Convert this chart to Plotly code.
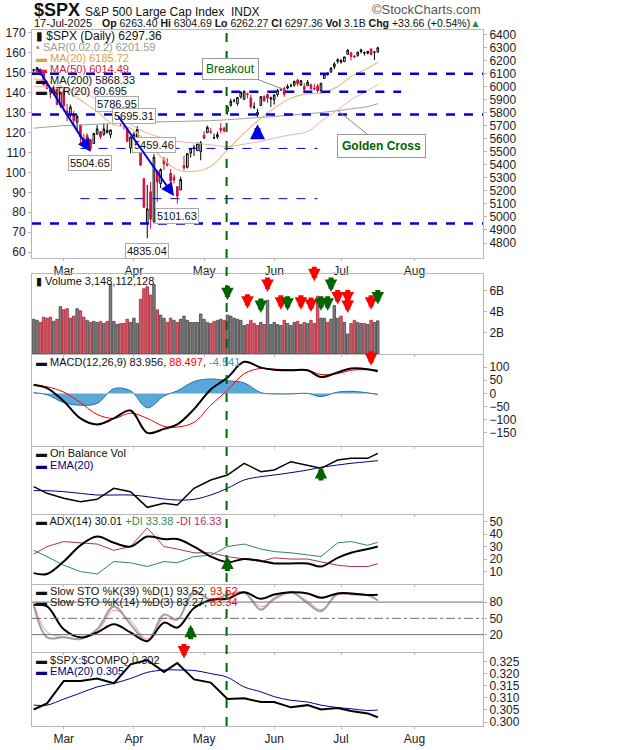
import plotly.graph_objects as go
from plotly.subplots import make_subplots

# daily $SPX candles, Feb 18 - Jul 17 2025
DATES = [
    "2025-02-18", "2025-02-19", "2025-02-20", "2025-02-21", "2025-02-24", "2025-02-25", "2025-02-26", "2025-02-27", "2025-02-28",
    "2025-03-03", "2025-03-04", "2025-03-05", "2025-03-06", "2025-03-07", "2025-03-10", "2025-03-11", "2025-03-12", "2025-03-13",
    "2025-03-14", "2025-03-17", "2025-03-18", "2025-03-19", "2025-03-20", "2025-03-21", "2025-03-24", "2025-03-25", "2025-03-26",
    "2025-03-27", "2025-03-28", "2025-03-31",
    "2025-04-01", "2025-04-02", "2025-04-03", "2025-04-04", "2025-04-07", "2025-04-08", "2025-04-09", "2025-04-10", "2025-04-11",
    "2025-04-14", "2025-04-15", "2025-04-16", "2025-04-17", "2025-04-21", "2025-04-22", "2025-04-23", "2025-04-24", "2025-04-25",
    "2025-04-28", "2025-04-29", "2025-04-30",
    "2025-05-01", "2025-05-02", "2025-05-05", "2025-05-06", "2025-05-07", "2025-05-08", "2025-05-09", "2025-05-12", "2025-05-13",
    "2025-05-14", "2025-05-15", "2025-05-16", "2025-05-19", "2025-05-20", "2025-05-21", "2025-05-22", "2025-05-23", "2025-05-27",
    "2025-05-28", "2025-05-29", "2025-05-30",
    "2025-06-02", "2025-06-03", "2025-06-04", "2025-06-05", "2025-06-06", "2025-06-09", "2025-06-10", "2025-06-11", "2025-06-12",
    "2025-06-13", "2025-06-16", "2025-06-17", "2025-06-18", "2025-06-20", "2025-06-23", "2025-06-24", "2025-06-25", "2025-06-26",
    "2025-06-27", "2025-06-30",
    "2025-07-01", "2025-07-02", "2025-07-03", "2025-07-07", "2025-07-08", "2025-07-09", "2025-07-10", "2025-07-11", "2025-07-14",
    "2025-07-15", "2025-07-16", "2025-07-17",
]
OPEN = [6121, 6117, 6134, 6114, 6026, 5982, 5970, 5981, 5857,
        5969, 5812, 5782, 5787, 5726, 5705, 5603, 5624, 5594, 5563, 5635, 5654, 5632, 5646, 5630, 5718, 5775, 5772, 5696, 5679, 5527,
        5597, 5580, 5492, 5293, 4954, 5193, 4966, 5353, 5256, 5441, 5411, 5335, 5305, 5232, 5207, 5395, 5381, 5490, 5529, 5508, 5500,
        5626, 5645, 5655, 5606, 5613, 5679, 5680, 5808, 5855, 5891, 5870, 5920, 5902, 5944, 5911, 5841, 5782, 5854, 5925, 5939, 5904,
        5897, 5938, 5978, 5985, 5987, 6005, 6010, 6049, 6010, 6000, 6005, 6013, 5987, 6004, 5970, 6062, 6104, 6112, 6150, 6193,
        6187, 6191, 6247, 6259, 6233, 6238, 6268, 6256, 6255, 6288, 6263, 6263]
HIGH = [6129, 6147, 6134, 6114, 6044, 5993, 6009, 5993, 5959,
        5987, 5866, 5861, 5812, 5783, 5705, 5636, 5642, 5598, 5645, 5703, 5654, 5716, 5711, 5670, 5775, 5787, 5776, 5732, 5685, 5615,
        5650, 5695, 5500, 5293, 5246, 5267, 5481, 5353, 5373, 5460, 5450, 5367, 5328, 5232, 5309, 5469, 5489, 5528, 5553, 5572, 5581,
        5658, 5700, 5683, 5640, 5654, 5721, 5691, 5846, 5907, 5907, 5917, 5958, 5968, 5953, 5939, 5878, 5829, 5924, 5930, 5944, 5922,
        5937, 5981, 5990, 5999, 6017, 6022, 6044, 6059, 6045, 6026, 6050, 6023, 6018, 6018, 6026, 6101, 6108, 6146, 6187, 6215,
        6211, 6227, 6285, 6262, 6242, 6265, 6290, 6269, 6271, 6291, 6273, 6305]
LOW = [6100, 6111, 6085, 6008, 5983, 5909, 5933, 5858, 5837,
       5810, 5732, 5762, 5711, 5667, 5565, 5528, 5546, 5505, 5563, 5632, 5597, 5622, 5640, 5603, 5718, 5764, 5694, 5670, 5572, 5488,
       5558, 5571, 5391, 5069, 4835, 4910, 4950, 5115, 5221, 5359, 5386, 5220, 5255, 5101, 5207, 5356, 5371, 5455, 5468, 5506, 5434,
       5598, 5645, 5637, 5598, 5597, 5640, 5646, 5783, 5845, 5876, 5853, 5907, 5895, 5908, 5830, 5826, 5767, 5854, 5886, 5872, 5843,
       5861, 5922, 5967, 5921, 5978, 5994, 5999, 6002, 6004, 5963, 6004, 5974, 5971, 5952, 5943, 6062, 6080, 6102, 6132, 6175,
       6175, 6188, 6243, 6201, 6218, 6228, 6253, 6237, 6246, 6241, 6203, 6262]
CLOSE = [6129, 6144, 6117, 6013, 5983, 5955, 5956, 5861, 5955,
         5850, 5778, 5842, 5739, 5770, 5614, 5572, 5599, 5522, 5639, 5675, 5615, 5675, 5663, 5667, 5768, 5777, 5712, 5693, 5581, 5612,
         5633, 5671, 5397, 5074, 5062, 4982, 5457, 5268, 5363, 5406, 5397, 5276, 5283, 5158, 5288, 5376, 5485, 5525, 5529, 5561, 5569,
         5604, 5687, 5650, 5607, 5631, 5664, 5660, 5844, 5886, 5892, 5916, 5958, 5964, 5940, 5845, 5842, 5803, 5922, 5889, 5912, 5912,
         5936, 5970, 5971, 5939, 6000, 6006, 6039, 6022, 6045, 5977, 6033, 5983, 5981, 5968, 6025, 6093, 6092, 6141, 6173, 6205,
         6198, 6227, 6279, 6230, 6226, 6263, 6280, 6260, 6269, 6244, 6264, 6297]
VOLUME_B = [3.3, 3.2, 3.0, 3.5, 3.4, 3.5, 3.1, 3.3, 4.5,
            4.2, 4.3, 3.4, 3.6, 4.3, 4.1, 3.5, 3.2, 3.0, 3.1, 3.0, 3.1, 2.9, 3.1, 6.6, 3.1, 2.8, 2.9, 2.9, 3.3, 3.0,
            3.4, 2.9, 5.2, 6.2, 6.4, 5.6, 6.6, 4.2, 3.7, 3.4, 3.0, 3.4, 3.2, 3.0, 3.3, 3.6, 3.2, 3.0, 3.0, 3.0, 3.8,
            3.3, 3.0, 2.9, 3.1, 3.2, 3.3, 3.2, 3.7, 3.6, 3.4, 3.3, 3.2, 2.7, 2.8, 3.2, 2.9, 2.7, 3.0, 2.8, 5.1, 2.8,
            3.0, 2.8, 2.7, 3.2, 2.9, 2.7, 3.0, 3.1, 2.8, 3.0, 2.9, 3.2, 2.9, 5.5, 3.4, 3.4, 3.0, 3.3, 4.6, 3.4,
            3.6, 3.0, 1.9, 2.9, 3.2, 3.0, 2.9, 2.9, 2.8, 3.2, 3.0, 3.15]

# indicator readings, roughly one per week
WEEKS = ["2025-02-18", "2025-02-24", "2025-03-03", "2025-03-10", "2025-03-17", "2025-03-24", "2025-03-31", "2025-04-07",
         "2025-04-14", "2025-04-21", "2025-04-28", "2025-05-05", "2025-05-12", "2025-05-19", "2025-05-27", "2025-06-02",
         "2025-06-09", "2025-06-16", "2025-06-23", "2025-06-30", "2025-07-07", "2025-07-14", "2025-07-17"]
MA20 = [6060, 6040, 5990, 5897, 5808, 5706, 5681, 5566, 5438, 5362, 5349, 5387, 5515, 5642, 5757, 5834, 5910, 5943, 5948,
        5999, 6076, 6140, 6186]
MA50 = [6000, 5995, 5985, 5960, 5900, 5800, 5710, 5642, 5604, 5579, 5566, 5553, 5540, 5558, 5579, 5604, 5630, 5655, 5732,
        5821, 5897, 5969, 6014]
MA200 = [5680, 5690, 5700, 5705, 5712, 5718, 5722, 5726, 5728, 5730, 5732, 5738, 5745, 5752, 5760, 5770, 5780, 5790, 5800,
         5815, 5830, 5845, 5868]
MACD = [33, 20, -30, -95, -118, -95, -65, -150, -135, -118, -60, 15, 60, 120, 98, 90, 88, 88, 62, 80, 95, 92, 84]
MACD_SIGNAL = [30, 25, 5, -35, -80, -95, -75, -95, -125, -128, -110, -45, 12, 75, 95, 92, 90, 88, 72, 75, 88, 90, 88.5]
MACD_HIST = [3, -5, -35, -45, -38, 18, 10, -55, -10, 10, 45, 55, 48, 40, 3, -2, -2, 0, -12, 5, 8, 2, -4.5]
OBV = [70, 50, 35, 25, 32, 65, 55, 8, 20, 15, 65, 90, 105, 140, 115, 120, 145, 135, 125, 150, 155, 155, 170]
OBV_EMA = [58, 58, 55, 50, 45, 45, 45, 40, 33, 30, 32, 45, 65, 90, 100, 105, 112, 120, 128, 135, 140, 145, 148]
ADX = [8.7, 8, 18, 31, 38, 33, 30, 38, 36, 36, 30, 22, 17.5, 20, 18.5, 16.5, 16.5, 16.5, 14, 21, 25, 28, 30]
PLUS_DI = [27, 22, 15, 10, 8, 18, 17, 14, 18, 17, 22, 23, 30, 32, 28, 26, 25, 23, 22, 33, 34, 31, 33.4]
MINUS_DI = [24, 30, 34, 33, 32, 27, 30, 45, 30, 28, 25, 25, 22, 20, 18, 21, 20, 20, 18, 15, 14, 14, 16.3]
STO39 = [75, 72, 30, 15, 24, 39, 24, 8, 42, 33, 69, 84, 86, 98, 86, 94, 98, 96, 88, 96, 96, 93, 93.5]
STO14_K = [75, 15, 15, 12, 30, 72, 39, 8, 57, 48, 100, 84, 93, 98, 66, 87, 98, 78, 63, 96, 94, 93, 83]
STO14_D = [78, 25, 16, 13, 25, 65, 45, 12, 50, 47, 95, 86, 92, 97, 72, 84, 97, 82, 66, 93, 94, 92, 83]
RATIO = [0.3052, 0.3077, 0.317, 0.317, 0.318, 0.316, 0.3238, 0.3256, 0.3207, 0.3244, 0.3176, 0.3163, 0.3095, 0.3098,
         0.3083, 0.3083, 0.3061, 0.307, 0.3052, 0.3058, 0.3046, 0.3036, 0.302]
RATIO_EMA = [0.307, 0.307, 0.3095, 0.312, 0.3145, 0.316, 0.318, 0.3205, 0.3215, 0.3215, 0.3213, 0.320, 0.3185, 0.3145,
             0.3125, 0.3105, 0.309, 0.3083, 0.307, 0.306, 0.3055, 0.3048, 0.305]

SUPPORT_FULL = [6097, 5786, 4950]
SUPPORT_PART = [("2025-04-21", "2025-07-28", 5960), ("2025-03-10", "2025-06-20", 5525), ("2025-03-10", "2025-06-19", 5140)]
PRICE_LABELS = [("2025-03-25", 5865, "5786.95"), ("2025-04-01", 5775, "5695.31"), ("2025-03-13", 5410, "5504.65"),
                ("2025-04-09", 5550, "5459.46"), ("2025-04-21", 5010, "5101.63"), ("2025-04-07", 4740, "4835.04")]
VOL_RED = [("2025-05-20", 4.3), ("2025-05-29", 5.9), ("2025-06-04", 4.2), ("2025-06-12", 4.2), ("2025-06-17", 4.0),
           ("2025-06-18", 6.9), ("2025-06-30", 4.7), ("2025-07-03", 4.7), ("2025-07-03", 3.9), ("2025-07-15", 4.2)]
VOL_GREEN = [("2025-05-12", 5.1), ("2025-05-27", 3.9), ("2025-06-06", 4.1), ("2025-06-23", 4.1), ("2025-06-25", 4.1),
             ("2025-06-26", 5.9), ("2025-07-17", 4.7)]

FONT = "Liberation Sans"
BLUE = "#0000e0"
DKGREEN = "#006400"
BOTTOM = 726

fig = make_subplots(rows=7, cols=1, shared_xaxes=True,
                    specs=[[{"secondary_y": True}]] + [[{}]] * 6)

fig.add_trace(go.Scatter(x=WEEKS, y=MA200, mode="lines", line=dict(color="#a0a0a0", width=1)), row=1, col=1)
fig.add_trace(go.Scatter(x=WEEKS, y=MA50, mode="lines", line=dict(color="#f0b0b0", width=1, shape="spline")), row=1, col=1)
fig.add_trace(go.Scatter(x=WEEKS, y=MA20, mode="lines", line=dict(color="#e8c080", width=1.2, shape="spline")), row=1, col=1)
fig.add_trace(go.Candlestick(x=DATES, open=OPEN, high=HIGH, low=LOW, close=CLOSE, whiskerwidth=0,
                             increasing=dict(line=dict(color="black", width=1), fillcolor="white"),
                             decreasing=dict(line=dict(color="#d0103a", width=1), fillcolor="#d0103a")), row=1, col=1)
fig.add_trace(go.Scatter(x=[DATES[0]], y=[100], mode="markers", marker=dict(opacity=0)), row=1, col=1, secondary_y=True)

vol_colors = ["#808080"] + ["#d06070" if CLOSE[i] < CLOSE[i - 1] else "#808080" for i in range(1, len(CLOSE))]
vol_lines = ["#404040"] + ["#b02030" if CLOSE[i] < CLOSE[i - 1] else "#404040" for i in range(1, len(CLOSE))]
fig.add_trace(go.Bar(x=DATES, y=VOLUME_B, marker=dict(color=vol_colors, line=dict(color=vol_lines, width=0.8))), row=2, col=1)

fig.add_trace(go.Scatter(x=WEEKS, y=MACD_HIST, mode="lines", fill="tozeroy", fillcolor="#5aa8d8",
                         line=dict(color="#2a6f9f", width=1, shape="spline")), row=3, col=1)
fig.add_trace(go.Scatter(x=WEEKS, y=MACD_SIGNAL, mode="lines", line=dict(color="red", width=1, shape="spline")), row=3, col=1)
fig.add_trace(go.Scatter(x=WEEKS, y=MACD, mode="lines", line=dict(color="black", width=2, shape="spline")), row=3, col=1)

fig.add_trace(go.Scatter(x=WEEKS, y=OBV_EMA, mode="lines", line=dict(color="#000080", width=1, shape="spline")), row=4, col=1)
fig.add_trace(go.Scatter(x=WEEKS, y=OBV, mode="lines", line=dict(color="black", width=1.5)), row=4, col=1)

fig.add_trace(go.Scatter(x=WEEKS, y=PLUS_DI, mode="lines", line=dict(color="#2e8b57", width=1)), row=5, col=1)
fig.add_trace(go.Scatter(x=WEEKS, y=MINUS_DI, mode="lines", line=dict(color="#b03060", width=1)), row=5, col=1)
fig.add_trace(go.Scatter(x=WEEKS, y=ADX, mode="lines", line=dict(color="black", width=2, shape="spline")), row=5, col=1)

fig.add_trace(go.Scatter(x=WEEKS, y=STO14_D, mode="lines", line=dict(color="#f09090", width=1, shape="spline")), row=6, col=1)
fig.add_trace(go.Scatter(x=WEEKS, y=STO14_K, mode="lines", line=dict(color="#a0a0a0", width=2, shape="spline")), row=6, col=1)
fig.add_trace(go.Scatter(x=WEEKS, y=STO39, mode="lines", line=dict(color="black", width=2, shape="spline")), row=6, col=1)

fig.add_trace(go.Scatter(x=WEEKS, y=RATIO_EMA, mode="lines", line=dict(color="#0000a0", width=1, shape="spline")), row=7, col=1)
fig.add_trace(go.Scatter(x=WEEKS, y=RATIO, mode="lines", line=dict(color="black", width=2)), row=7, col=1)

# panel layout in pixels -> paper coords
def py(s):
    return (BOTTOM - s) / (BOTTOM - 30)

def px(s):
    return (s - 32) / 451

domains = {"yaxis": (30, 258), "yaxis3": (274, 354), "yaxis4": (355, 446),
           "yaxis5": (447, 514), "yaxis6": (515, 584), "yaxis7": (585, 652), "yaxis8": (653, BOTTOM)}
for name, (top, bot) in domains.items():
    fig.layout[name].domain = [py(bot), py(top)]

axis_style = dict(showgrid=False, zeroline=False, showline=True, linecolor="#b8b8b8", mirror=True, automargin=False,
                  ticks="outside", ticklen=3, tickcolor="#b8b8b8", tickfont=dict(size=12, color="#222"))
fig.update_yaxes(side="right", **axis_style)
fig.update_layout(
    yaxis=dict(range=[4685, 6433], tickvals=list(range(4800, 6401, 100))),
    yaxis2=dict(range=[57.1, 171.3], side="left", tickvals=list(range(60, 171, 10)), showline=False, overlaying="y"),
    yaxis3=dict(range=[0, 7.6], tickvals=[2, 4, 6], ticktext=["2B", "4B", "6B"]),
    yaxis4=dict(range=[-200, 146], tickvals=[-150, -100, -50, 0, 50, 100]),
    yaxis5=dict(range=[-12, 189], showticklabels=False, ticks=""),
    yaxis6=dict(range=[0, 55.3], tickvals=[10, 20, 30, 40, 50]),
    yaxis7=dict(range=[-12, 111.5], tickvals=[20, 50, 80]),
    yaxis8=dict(range=[0.2984, 0.3285], tickvals=[0.300, 0.305, 0.310, 0.315, 0.320, 0.325], tickformat=".3f"),
)

fig.update_xaxes(domain=[0, 1], range=["2025-02-17 12:00", "2025-08-29 12:00"],
                 rangebreaks=[dict(bounds=["sat", "mon"]),
                              dict(values=["2025-04-18", "2025-05-26", "2025-06-19", "2025-07-04"])],
                 tickvals=["2025-03-03", "2025-04-01", "2025-05-01", "2025-06-02", "2025-07-01", "2025-08-01"],
                 ticktext=["Mar", "Apr", "May", "Jun", "Jul", "Aug"],
                 rangeslider_visible=False, **axis_style)
fig.update_xaxes(ticklen=2)
fig.update_xaxes(showticklabels=True, row=1, col=1)
fig.update_xaxes(showticklabels=True, row=7, col=1)

shapes = []
for level in SUPPORT_FULL:
    shapes.append(dict(type="line", xref="paper", yref="y", x0=0, x1=1, y0=level, y1=level,
                       line=dict(color=BLUE, width=2.5, dash="dash")))
for x0, x1, level in SUPPORT_PART:
    w = 2.5 if level == 5960 else 1
    shapes.append(dict(type="line", xref="x", yref="y", x0=x0, x1=x1, y0=level, y1=level,
                       line=dict(color=BLUE, width=w, dash="dash")))
shapes.append(dict(type="line", xref="x", yref="paper", x0="2025-05-09 18:00", x1="2025-05-09 18:00", y0=0, y1=1,
                   line=dict(color=DKGREEN, width=2, dash="dash")))
for y in (20, 80):
    shapes.append(dict(type="line", xref="paper", yref="y7", x0=0, x1=1, y0=y, y1=y, line=dict(color="#707070", width=1)))
shapes.append(dict(type="line", xref="paper", yref="y7", x0=0, x1=1, y0=50, y1=50,
                   line=dict(color="#707070", width=1, dash="dashdot")))
fig.update_layout(shapes=shapes)

ann = []

def text(x, y, s, size=11, color="#111", anchor="left"):
    ann.append(dict(xref="paper", yref="paper", x=px(x), y=py(y), text=s, showarrow=False, xanchor=anchor,
                    yanchor="middle", font=dict(size=size, color=color, family=FONT)))

# header
ann.append(dict(xref="paper", yref="paper", x=px(32), y=py(10), showarrow=False, xanchor="left", yanchor="middle",
                text="<b>$SPX</b> <span style='font-size:12px'>S&P 500 Large Cap Index  INDX</span>",
                font=dict(size=18, color="#111", family=FONT)))
text(483, 10, "©StockCharts.com", 13, "#555", "right")
text(32, 23, "17-Jul-2025", 11)
text(483, 23, "<b>Op</b> 6263.40 <b>Hi</b> 6304.69 <b>Lo</b> 6262.27 <b>Cl</b> 6297.36 <b>Vol</b> 3.1B "
              "<b>Chg</b> +33.66 (+0.54%)<span style='color:#2e8b57'>▲</span>", 10.5, "#111", "right")

# price legend
for i, (s, c) in enumerate([("▮ $SPX (Daily) 6297.36", "#111"), ("▪ SAR(0.02,0.2) 6201.59", "#999"),
                            ("▬ MA(20) 6185.72", "#e0a040"), ("▬ MA(50) 6014.49", "#cc2244"),
                            ("▬ MA(200) 5868.33", "#111"), ("▬ ATR(20) 60.695", "#111")]):
    text(34, 36 + 11 * i, s, 12 if i == 0 else 11, c)

for d, y, s in PRICE_LABELS:
    ann.append(dict(xref="x", yref="y", x=d, y=y, text=s, showarrow=False, bgcolor="white", bordercolor="#aaa",
                    borderwidth=1, borderpad=1, font=dict(size=11, color="#111", family=FONT)))

# blue trend arrows
for x0, y0, x1, y1 in [("2025-02-19", 6148, "2025-03-13", 5500), ("2025-03-25", 5783, "2025-04-17", 5160)]:
    ann.append(dict(xref="x", yref="y", axref="x", ayref="y", x=x1, y=y1, ax=x0, ay=y0, text="", showarrow=True,
                    arrowhead=2, arrowsize=1.3, arrowwidth=2, arrowcolor=BLUE))
ann.append(dict(xref="x", yref="y", x="2025-05-23", y=5710, ax=0, ay=16, text="", showarrow=True,
                arrowhead=2, arrowsize=0.5, arrowwidth=6, arrowcolor=BLUE))

ann.append(dict(xref="x", yref="y", x="2025-06-05", y=5975, ax=-54, ay=-21, text="Breakout", showarrow=True,
                arrowhead=0, arrowwidth=1, arrowcolor="#888", bgcolor="white", bordercolor="#999", borderwidth=1,
                borderpad=3, font=dict(size=12, color=DKGREEN, family=FONT)))
ann.append(dict(xref="x", yref="y", x="2025-06-30", y=5815, ax=44, ay=35, text="<b>Golden Cross</b>", showarrow=True,
                arrowhead=0, arrowwidth=1, arrowcolor="#888", bgcolor="white", bordercolor="#999", borderwidth=1,
                borderpad=4, font=dict(size=12, color=DKGREEN, family=FONT)))

# signal arrows
def arrow(d, y, yref, color, down=True):
    ann.append(dict(xref="x", yref=yref, x=d, y=y, ax=0, ay=-16 if down else 16, text="", showarrow=True,
                    arrowhead=2, arrowsize=0.5, arrowwidth=5, arrowcolor=color))

for d, y in VOL_RED:
    arrow(d, y, "y3", "#ff0000")
for d, y in VOL_GREEN:
    arrow(d, y, "y3", DKGREEN)
arrow("2025-07-15", 105, "y4", "#ff0000")
arrow("2025-06-23", 132, "y5", DKGREEN, down=False)
arrow("2025-05-12", 22, "y6", DKGREEN, down=False)
arrow("2025-04-25", 38, "y7", DKGREEN, down=False)
arrow("2025-04-23", 0.3262, "y8", "#ff0000")

# panel legends
text(34, 281, "▮ Volume 3,148,112,128", 11)
text(34, 362, "▬ MACD(12,26,9) 83.956, <span style='color:red'>88.497</span>, "
              "<span style='color:#3399cc'>-4.541</span>", 11)
text(34, 453, "▬ On Balance Vol", 11)
text(34, 465, "▬ EMA(20)", 11, "#000080")
text(34, 521, "▬ ADX(14) 30.01 <span style='color:#2e8b57'>+DI 33.38</span> "
              "<span style='color:#b03060'>-DI 16.33</span>", 11)
text(34, 591, "▬ Slow STO %K(39) %D(1) 93.52, <span style='color:red'>93.52</span>", 11)
text(34, 602, "▬ Slow STO %K(14) %D(3) 83.27, <span style='color:red'>83.34</span>", 11)
text(34, 660, "▬ $SPX:$COMPQ 0.302", 11)
text(34, 671, "▬ EMA(20) 0.305", 11, "#000080")

fig.update_layout(annotations=ann, width=620, height=750, showlegend=False, bargap=0.25,
                  paper_bgcolor="white", plot_bgcolor="white",
                  font=dict(family=FONT, size=12, color="#111"),
                  margin=dict(l=32, r=137, t=30, b=750 - BOTTOM))

fig.write_html("out.html", config={"displayModeBar": False}, post_script="document.body.style.margin='0';")
